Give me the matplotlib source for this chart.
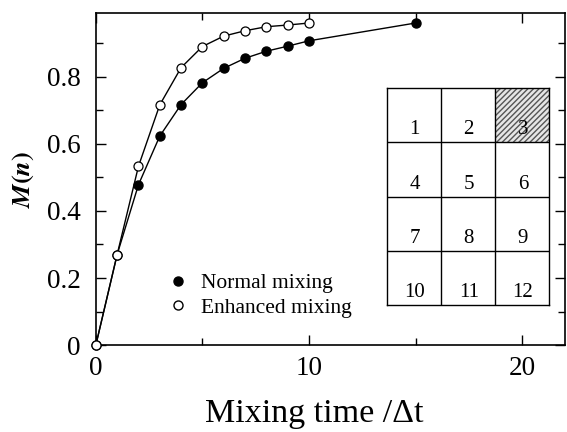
'''
plot.py draws the mixing curve M(n) for normal and enhanced mixing
'''
import numpy as np
import matplotlib
matplotlib.use("Agg")
from matplotlib import pyplot as plt
from matplotlib.lines import Line2D

# data
normal_t = [0, 1, 2, 3, 4, 5, 6, 7, 8, 9, 10, 15]
normal_m = [0, 0.27, 0.478, 0.623, 0.717, 0.782, 0.825, 0.855, 0.876, 0.891, 0.907, 0.96]
enhanced_t = [0, 1, 2, 3, 4, 5, 6, 7, 8, 9, 10]
enhanced_m = [0, 0.27, 0.533, 0.716, 0.827, 0.890, 0.921, 0.937, 0.949, 0.954, 0.960]
x_ticks = [0, 10, 20]
y_ticks = [0, 0.2, 0.4, 0.6, 0.8]
y_tick_labels = ["0", "0.2", "0.4", "0.6", "0.8"]
cell_labels = [["1", "2", "3"], ["4", "5", "6"], ["7", "8", "9"], ["10", "11", "12"]]
hatched_cell = "3"

plt.rcParams['font.family'] = ['Liberation Serif', 'DejaVu Serif']
plt.rcParams['mathtext.fontset'] = 'stix'

fig = plt.figure(figsize=(5.67, 4.32), dpi=100)
ax = fig.add_axes([0.169, 0.201, 0.827, 0.769])

# curves, open markers drawn over filled ones
ax.plot(normal_t, normal_m, color='black', lw=1.0, marker='o', ms=6.5,
        mfc='black', mec='black', clip_on=False, zorder=3)
ax.plot(enhanced_t, enhanced_m, color='black', lw=1.0, marker='o', ms=6.5,
        mfc='white', mec='black', mew=0.9, clip_on=False, zorder=4)

ax.set_xlim(0, 22)
ax.set_ylim(0, 0.99)
ax.set_xticks(x_ticks)
ax.set_xticks([5, 15], minor=True)
ax.set_yticks(y_ticks)
ax.set_yticklabels(y_tick_labels)
ax.set_yticks([0.1, 0.3, 0.5, 0.7, 0.9], minor=True)
ax.tick_params(which='both', direction='in', top=True, right=True, labelsize=19.5, width=1.0)
ax.tick_params(which='major', length=7)
ax.tick_params(which='minor', length=5)
ax.tick_params(axis='x', pad=8)
ax.tick_params(axis='y', pad=11)
for s in ax.spines.values():
    s.set_linewidth(1.2)

ax.set_xlabel("Mixing time /Δt", fontsize=24.5)
ax.xaxis.set_label_coords(0.465, -0.162)
ax.set_ylabel(r"$\boldsymbol{M(n)}$", fontsize=19)
ax.yaxis.set_label_coords(-0.128, 0.5)

# legend with markers only
handles = [Line2D([], [], ls='none', marker='o', ms=6.5, mfc='black', mec='black'),
           Line2D([], [], ls='none', marker='o', ms=6.5, mfc='white', mec='black')]
ax.legend(handles, ["Normal mixing", "Enhanced mixing"], loc='lower left',
          bbox_to_anchor=(0.13, 0.05), frameon=False, fontsize=15.5,
          handlelength=1.0, handletextpad=0.55, labelspacing=0.2, borderpad=0)

# inset grid of cells
inset = ax.inset_axes([0.62, 0.12, 0.346, 0.654])
n_rows = len(cell_labels)
n_cols = len(cell_labels[0])
inset.set_xlim(0, n_cols)
inset.set_ylim(0, n_rows)
inset.set_xticks([])
inset.set_yticks([])
for s in inset.spines.values():
    s.set_linewidth(1.0)
for r in range(n_rows):
    for c in range(n_cols):
        lab = cell_labels[r][c]
        y0 = n_rows - 1 - r
        if lab == hatched_cell:
            inset.add_patch(plt.Rectangle((c, y0), 1, 1, facecolor='#e6e6e6',
                                          edgecolor='#555555', hatch='//////', lw=0))
        inset.text(c + 0.52, y0 + 0.23, lab, ha='center', va='center', fontsize=15)
for c in range(1, n_cols):
    inset.axvline(c, color='black', lw=1.0)
for r in range(1, n_rows):
    inset.axhline(r, color='black', lw=1.0)

fig.savefig("out.png", dpi=100)
